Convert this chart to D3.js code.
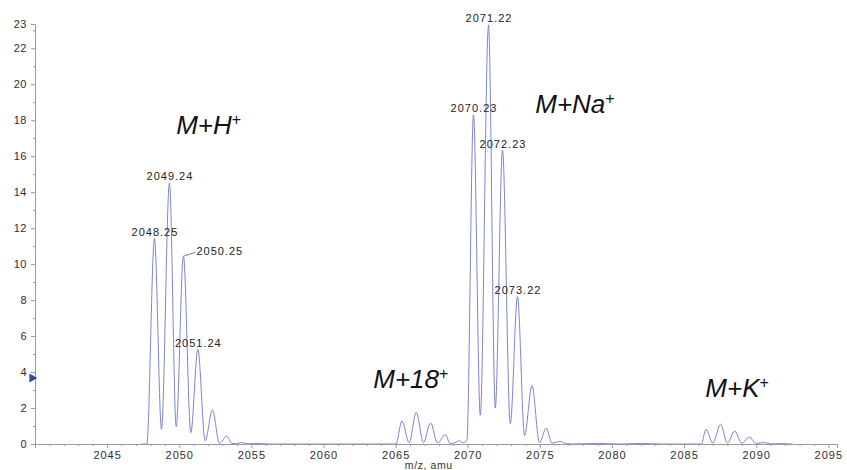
<!DOCTYPE html>
<html><head><meta charset="utf-8">
<script src="https://cdn.jsdelivr.net/npm/d3@7/dist/d3.min.js"></script>
<style>html,body{margin:0;padding:0;background:#fff;overflow:hidden}</style>
</head><body><svg id="chart" width="847" height="470"></svg>
<script>
// ---- data ----
const spectrumMz = [
  2047.40, 2047.75, 2048.28, 2048.77, 2049.32, 2049.79, 2050.29, 2050.80, 2051.29, 2051.80,
  2052.30, 2052.79, 2053.30, 2053.65, 2053.95, 2054.34, 2054.75, 2055.50, 2056.20,
  2065.02, 2065.44, 2065.94, 2066.43, 2066.93, 2067.42, 2067.91, 2068.44, 2068.79, 2069.13,
  2069.41, 2069.67, 2069.94, 2070.40, 2070.87, 2071.44, 2071.91, 2072.41, 2072.95, 2073.45,
  2073.94, 2074.45, 2074.98, 2075.44, 2075.84, 2076.41, 2076.83, 2077.30, 2079.00, 2080.50,
  2082.00, 2083.50, 2086.19, 2086.52, 2086.99, 2087.53, 2088.00, 2088.50, 2089.00, 2089.51,
  2090.01, 2090.51, 2090.98, 2091.80, 2092.50
];
const spectrumIntensity = [
  0, 0, 11.43, 0.82, 14.52, 0.96, 10.46, 0.63, 5.26, 0.18,
  1.89, 0.04, 0.44, 0.03, 0.02, 0.08, 0.01, 0.03, 0,
  0, 1.28, 0.07, 1.76, 0.07, 1.18, 0.05, 0.52, 0.03, 0.08,
  0.18, 0.08, 0.2, 18.3, 1.6, 23.3, 2.0, 16.33, 1.12, 8.2,
  0.47, 3.25, 0.07, 0.88, 0.05, 0.15, 0.02, 0, 0.03, 0,
  0.03, 0, 0, 0.82, 0.05, 1.1, 0.05, 0.72, 0.04, 0.38,
  0.02, 0.09, 0.01, 0.02, 0
];
const peakLabelText = ["2048.25", "2049.24", "2050.25", "2051.24", "2070.23", "2071.22", "2072.23", "2073.22"];
const peakLabelMz = [2048.28, 2049.32, 2050.29, 2051.29, 2070.40, 2071.44, 2072.41, 2073.45];
const peakLabelIntensity = [11.43, 14.52, 10.46, 5.26, 18.3, 23.3, 16.33, 8.2];
const ionLabels = ["M+H", "M+Na", "M+18", "M+K"];
const ionMz = [2049.79, 2074.68, 2063.45, 2086.47];
const ionIntensity = [17.22, 18.39, 3.09, 2.59];
const xMajorTicks = [2045, 2050, 2055, 2060, 2065, 2070, 2075, 2080, 2085, 2090, 2095];
const yMajorTicks = [0, 2, 4, 6, 8, 10, 12, 14, 16, 18, 20, 22];
const yTopLabel = "23";
const markerIntensity = 3.67;
const xTitle = "m/z, amu";

// ---- layout ----
const W = 847, H = 470;
const xDomain = [2040, 2095.6], yDomain = [0, 23.35];
const x = d3.scaleLinear().domain(xDomain).range([35, 837]);
const y = d3.scaleLinear().domain(yDomain).range([444, 24]);
const svg = d3.select("#chart");
const FONT = "Arial, 'Liberation Sans', sans-serif";

// spectrum line
const pts = spectrumMz.map((m, i) => [m, spectrumIntensity[i]]);
svg.append("path").datum(pts)
  .attr("fill", "none").attr("stroke", "#7c84dc").attr("stroke-width", 1)
  .attr("d", d3.line().x(d => x(d[0])).y(d => y(d[1])).curve(d3.curveMonotoneX));

// axes
const axisColor = "#9a9a9a";
const xMinor = d3.range(Math.ceil(xDomain[0]) + 1, Math.floor(xDomain[1]) + 1).filter(v => v % 5 !== 0);
const gxMinor = svg.append("g").attr("transform", `translate(0,${y(0)})`)
  .call(d3.axisBottom(x).tickValues(xMinor).tickSize(2).tickFormat(""));
const gx = svg.append("g").attr("transform", `translate(0,${y(0)})`)
  .call(d3.axisBottom(x).tickValues(xMajorTicks).tickSize(4).tickPadding(3).tickFormat(d3.format("d")));
const yMinor = d3.range(1, 24, 2);
const gyMinor = svg.append("g").attr("transform", `translate(${x(xDomain[0])},0)`)
  .call(d3.axisLeft(y).tickValues(yMinor).tickSize(2).tickFormat(""));
const gy = svg.append("g").attr("transform", `translate(${x(xDomain[0])},0)`)
  .call(d3.axisLeft(y).tickValues(yMajorTicks.concat([yDomain[1]])).tickSize(4).tickPadding(4)
    .tickFormat(d => d === yDomain[1] ? yTopLabel : d3.format("d")(d)));
gy.selectAll(".tick").filter(d => d === yDomain[1]).select("line").remove();
[gx, gy, gxMinor, gyMinor].forEach(g => {
  g.select(".domain").attr("stroke", axisColor);
  g.selectAll(".tick line").attr("stroke", axisColor);
  g.selectAll("text").attr("fill", "#2e2e2e").style("font-family", FONT)
    .style("font-size", "11px").style("letter-spacing", "1px");
});
gxMinor.select(".domain").remove();
gyMinor.select(".domain").remove();
gy.selectAll("text").style("letter-spacing", "0.5px");

// x title (sits at the bottom edge, between the 2065 and 2070 labels, like the original)
svg.append("text").attr("x", x(2067.3)).attr("y", 469).attr("text-anchor", "middle")
  .attr("fill", "#333").style("font-family", FONT).style("font-size", "10.5px")
  .style("letter-spacing", "0.6px").text(xTitle);

// marker on y axis
svg.append("path").attr("d", d3.symbol().type(d3.symbolTriangle).size(36))
  .attr("transform", `translate(${x(xDomain[0]) - 3},${y(markerIntensity)}) rotate(90)`)
  .attr("fill", "#2a4c9c");

// peak labels
peakLabelText.forEach((t, i) => {
  const px = x(peakLabelMz[i]), py = y(peakLabelIntensity[i]);
  const txt = svg.append("text").attr("fill", "#222").style("font-family", FONT)
    .style("font-size", "11px").style("letter-spacing", "1px").text(t);
  if (t === "2050.25") {
    svg.append("line").attr("x1", px + 1).attr("y1", py).attr("x2", px + 12).attr("y2", py - 3.5)
      .attr("stroke", "#555").attr("stroke-width", 0.8);
    txt.attr("x", px + 13).attr("y", py - 1).attr("text-anchor", "start");
  } else {
    txt.attr("x", px + 0.5).attr("y", py - 2.5).attr("text-anchor", "middle");
  }
});

// ion annotations
ionLabels.forEach((t, i) => {
  const txt = svg.append("text").attr("x", x(ionMz[i])).attr("y", y(ionIntensity[i]))
    .attr("fill", "#111").style("font-family", FONT).style("font-style", "italic")
    .style("font-size", "26px");
  txt.append("tspan").text(t);
  txt.append("tspan").attr("dy", -9).style("font-size", "16px").style("font-style", "normal").text("+");
});
</script></body></html>
